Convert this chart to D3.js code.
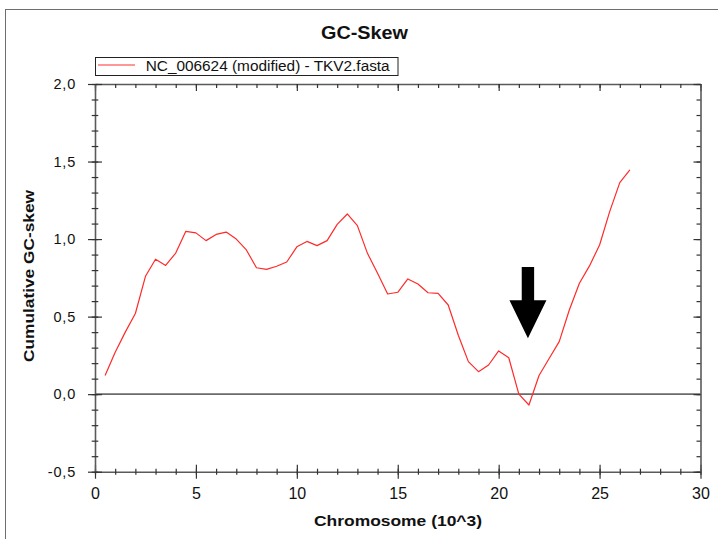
<!DOCTYPE html>
<html><head><meta charset="utf-8">
<script src="https://cdn.jsdelivr.net/npm/d3@7"></script>
<style>
body{margin:0;background:#fff;}
svg{display:block;font-family:"Liberation Sans",Arial,sans-serif;}
</style>
</head><body>
<svg id="chart" width="718" height="539"></svg>
<script>
// ---- data ----
const positions = [0.5,1,1.5,2,2.5,3,3.5,4,4.5,5,5.5,6,6.5,7,7.5,8,8.5,9,9.5,10,10.5,11,11.5,12,12.5,13,13.5,14,14.5,15,15.5,16,16.5,17,17.5,18,18.5,19,19.5,20,20.5,21,21.5,22,22.5,23,23.5,24,24.5,25,25.5,26,26.5];
const skew = [0.12,0.27,0.40,0.52,0.76,0.87,0.83,0.91,1.05,1.04,0.99,1.03,1.045,1.00,0.93,0.815,0.805,0.825,0.852,0.95,0.985,0.958,0.99,1.095,1.162,1.087,0.908,0.78,0.646,0.657,0.743,0.71,0.654,0.65,0.575,0.38,0.21,0.145,0.188,0.279,0.235,0.0,-0.07,0.12,0.23,0.339,0.543,0.715,0.827,0.962,1.177,1.364,1.446];
const xTickValues = [0,5,10,15,20,25,30];
const xTickLabels = ["0","5","10","15","20","25","30"];
const yTickValues = [-0.5,0,0.5,1,1.5,2];
const yTickLabels = ["-0,5","0,0","0,5","1,0","1,5","2,0"];
const seriesName = "NC_006624 (modified) - TKV2.fasta";
const chartTitle = "GC-Skew";
const xTitle = "Chromosome (10^3)";
const yTitle = "Cumulative GC-skew";
// arrow annotation (data units)
const arrowX = [21.45];
const arrowTop = [0.82];
const arrowHeadBase = [0.605];
const arrowTip = [0.36];

// ---- layout ----
const svg = d3.select("#chart");
const x = d3.scaleLinear().domain([0,30]).range([95,700.5]);
const y = d3.scaleLinear().domain([-0.5,2]).range([471.7,84]);
const axisColor = "#5a5a5a";

// outer frame
svg.append("rect").attr("x",5.5).attr("y",9.5).attr("width",800).attr("height",600)
  .attr("fill","none").attr("stroke","#6e6e6e").attr("stroke-width",1);

// title
svg.append("text").attr("x",364.5).attr("y",39.3).attr("text-anchor","middle")
  .attr("font-size",18).attr("font-weight","bold").attr("fill","#111")
  .attr("textLength",87).attr("lengthAdjust","spacingAndGlyphs").text(chartTitle);

// zero line
svg.append("line").attr("x1",x(0)).attr("x2",x(30)).attr("y1",y(0)).attr("y2",y(0))
  .attr("stroke","#6a6a6a").attr("stroke-width",1.6);

function styleAxis(g){
  g.selectAll(".domain").attr("stroke",axisColor).attr("stroke-width",1.6);
  g.selectAll(".tick line").attr("stroke","#333").attr("stroke-width",1.2);
}
const minorX = d3.range(0,31,1);
const minorY = d3.range(-5,21,1).map(d=>d/10);

// bottom axis (ticks crossing)
const gbMinor = svg.append("g").attr("transform",`translate(0,${y(-0.5)})`)
  .call(d3.axisBottom(x).tickValues(minorX).tickSize(3).tickSizeOuter(0).tickFormat(""));
gbMinor.selectAll(".tick line").attr("y1",-3);
styleAxis(gbMinor);
const gb = svg.append("g").attr("transform",`translate(0,${y(-0.5)})`)
  .call(d3.axisBottom(x).tickValues(xTickValues).tickSize(7).tickSizeOuter(0).tickPadding(9)
    .tickFormat((d,i)=>xTickLabels[i]));
gb.selectAll(".tick line").attr("y1",-7);
gb.select(".domain").remove();
styleAxis(gb);
gb.selectAll("text").attr("font-size",16).attr("fill","#111").attr("font-family","Liberation Sans, Arial, sans-serif");

// top axis (ticks inward)
const gtMinor = svg.append("g").attr("transform",`translate(0,${y(2)})`)
  .call(d3.axisBottom(x).tickValues(minorX).tickSize(4).tickSizeOuter(0).tickFormat(""));
styleAxis(gtMinor);
const gt = svg.append("g").attr("transform",`translate(0,${y(2)})`)
  .call(d3.axisBottom(x).tickValues(xTickValues).tickSize(7).tickSizeOuter(0).tickFormat(""));
gt.select(".domain").remove();
styleAxis(gt);

// left axis (ticks crossing)
const glMinor = svg.append("g").attr("transform",`translate(${x(0)},0)`)
  .call(d3.axisLeft(y).tickValues(minorY).tickSize(3.3).tickSizeOuter(0).tickFormat(""));
glMinor.selectAll(".tick line").attr("x1",3.3);
styleAxis(glMinor);
const gl = svg.append("g").attr("transform",`translate(${x(0)},0)`)
  .call(d3.axisLeft(y).tickValues(yTickValues).tickSize(7).tickSizeOuter(0).tickPadding(12)
    .tickFormat((d,i)=>yTickLabels[i]));
gl.selectAll(".tick line").attr("x1",7);
gl.select(".domain").remove();
styleAxis(gl);
gl.selectAll("text").attr("font-size",14.5).attr("fill","#111").attr("letter-spacing","0.8px")
  .attr("font-family","Liberation Sans, Arial, sans-serif");

// right axis (ticks inward)
const grMinor = svg.append("g").attr("transform",`translate(${x(30)},0)`)
  .call(d3.axisLeft(y).tickValues(minorY).tickSize(4).tickSizeOuter(0).tickFormat(""));
styleAxis(grMinor);
const gr = svg.append("g").attr("transform",`translate(${x(30)},0)`)
  .call(d3.axisLeft(y).tickValues(yTickValues).tickSize(7).tickSizeOuter(0).tickFormat(""));
gr.select(".domain").remove();
styleAxis(gr);

// axis titles
svg.append("text").attr("x",398).attr("y",525.5).attr("text-anchor","middle")
  .attr("font-size",15).attr("font-weight","bold").attr("fill","#111")
  .attr("textLength",168).attr("lengthAdjust","spacingAndGlyphs").text(xTitle);
svg.append("text").attr("transform","translate(34.3,276) rotate(-90)").attr("text-anchor","middle")
  .attr("font-size",15).attr("font-weight","bold").attr("fill","#111")
  .attr("textLength",172).attr("lengthAdjust","spacingAndGlyphs").text(yTitle);

// legend
svg.append("rect").attr("x",95.5).attr("y",57.5).attr("width",302.5).attr("height",18)
  .attr("fill","#fff").attr("stroke","#222").attr("stroke-width",1);
svg.append("line").attr("x1",98).attr("x2",135).attr("y1",65).attr("y2",65)
  .attr("stroke","#ff3030").attr("stroke-width",1.2);
svg.append("text").attr("x",145.7).attr("y",70.6).attr("font-size",14).attr("fill","#111")
  .attr("textLength",244).attr("lengthAdjust","spacingAndGlyphs").text(seriesName);

// series line
const data = positions.map((p,i)=>({x:p,y:skew[i]}));
svg.append("path").datum(data)
  .attr("fill","none").attr("stroke","#ff2a2a").attr("stroke-width",1.2)
  .attr("stroke-linejoin","round")
  .attr("d",d3.line().x(d=>x(d.x)).y(d=>y(d.y)));

// arrow annotation
const ax = x(arrowX[0]);
const shaftHalf = 6.2, headHalf = 18.5;
const arrowPath = d3.path();
arrowPath.moveTo(ax-shaftHalf, y(arrowTop[0]));
arrowPath.lineTo(ax+shaftHalf, y(arrowTop[0]));
arrowPath.lineTo(ax+shaftHalf, y(arrowHeadBase[0]));
arrowPath.lineTo(ax+headHalf, y(arrowHeadBase[0]));
arrowPath.lineTo(ax, y(arrowTip[0]));
arrowPath.lineTo(ax-headHalf, y(arrowHeadBase[0]));
arrowPath.lineTo(ax-shaftHalf, y(arrowHeadBase[0]));
arrowPath.closePath();
svg.append("path").attr("d",arrowPath.toString()).attr("fill","#000");
</script>
</body></html>
